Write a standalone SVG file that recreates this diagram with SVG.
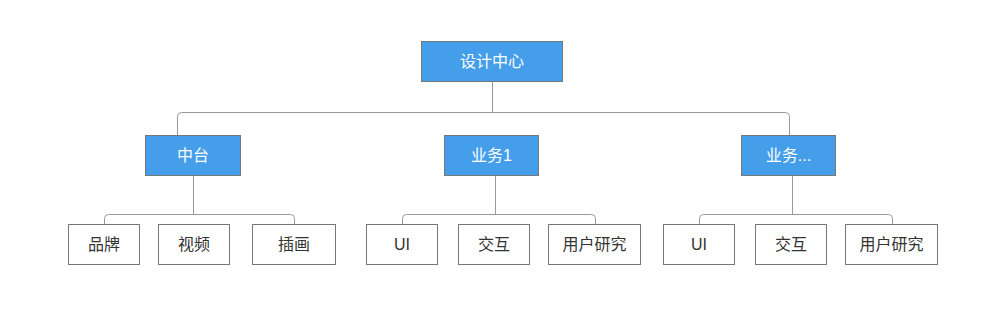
<svg xmlns="http://www.w3.org/2000/svg" width="991" height="326" viewBox="0 0 991 326">
<style>
.blue rect{fill:#459eea;stroke:#777;stroke-width:1}
.white rect{fill:#fff;stroke:#777;stroke-width:1}
text{font-family:"Liberation Sans","Noto Sans CJK SC",sans-serif;font-size:16px;text-anchor:middle;dominant-baseline:central}
.blue text{fill:#fff}
.white text{fill:#333}
#connectors path{fill:none;stroke:#999;stroke-width:1}
</style>
<rect width="991" height="326" fill="#fff"/>
<g id="connectors">
<path d="M492.5 81.5V112.5"/>
<path d="M177.5 135.5V116.5Q177.5 112.5 181.5 112.5H785.5Q789.5 112.5 789.5 116.5V135.5"/>
<path d="M193.5 175.5V214.5"/>
<path d="M104.5 224.5V218.5Q104.5 214.5 108.5 214.5H290.5Q294.5 214.5 294.5 218.5V224.5"/>
<path d="M495.5 175.5V214.5"/>
<path d="M402.5 224.5V218.5Q402.5 214.5 406.5 214.5H591.5Q595.5 214.5 595.5 218.5V224.5"/>
<path d="M792.5 175.5V214.5"/>
<path d="M699.5 224.5V218.5Q699.5 214.5 703.5 214.5H888.5Q892.5 214.5 892.5 218.5V224.5"/>
</g>
<g id="root" class="blue"><rect x="421.5" y="41.5" width="141" height="40"/><text x="492" y="61.5">设计中心</text></g>
<g id="zhongtai" class="blue"><rect x="145.5" y="135.5" width="95" height="40"/><text x="193" y="155.5">中台</text></g>
<g id="yewu1" class="blue"><rect x="444.5" y="135.5" width="94" height="40"/><text x="491.5" y="155.5">业务1</text></g>
<g id="yewu2" class="blue"><rect x="741.5" y="135.5" width="94" height="40"/><text x="788.5" y="155.5">业务...</text></g>
<g id="pinpai" class="white"><rect x="68.5" y="224.5" width="71" height="40"/><text x="104" y="244.5">品牌</text></g>
<g id="shipin" class="white"><rect x="158.5" y="224.5" width="71" height="40"/><text x="194" y="244.5">视频</text></g>
<g id="chahua" class="white"><rect x="252.5" y="224.5" width="83" height="40"/><text x="294" y="244.5">插画</text></g>
<g id="ui1" class="white"><rect x="366.5" y="224.5" width="71" height="40"/><text x="402" y="244.5">UI</text></g>
<g id="jiaohu1" class="white"><rect x="458.5" y="224.5" width="71" height="40"/><text x="494" y="244.5">交互</text></g>
<g id="yanjiu1" class="white"><rect x="548.5" y="224.5" width="92" height="40"/><text x="594.5" y="244.5">用户研究</text></g>
<g id="ui2" class="white"><rect x="663.5" y="224.5" width="71" height="40"/><text x="699" y="244.5">UI</text></g>
<g id="jiaohu2" class="white"><rect x="755.5" y="224.5" width="71" height="40"/><text x="791" y="244.5">交互</text></g>
<g id="yanjiu2" class="white"><rect x="845.5" y="224.5" width="92" height="40"/><text x="891.5" y="244.5">用户研究</text></g>
</svg>
